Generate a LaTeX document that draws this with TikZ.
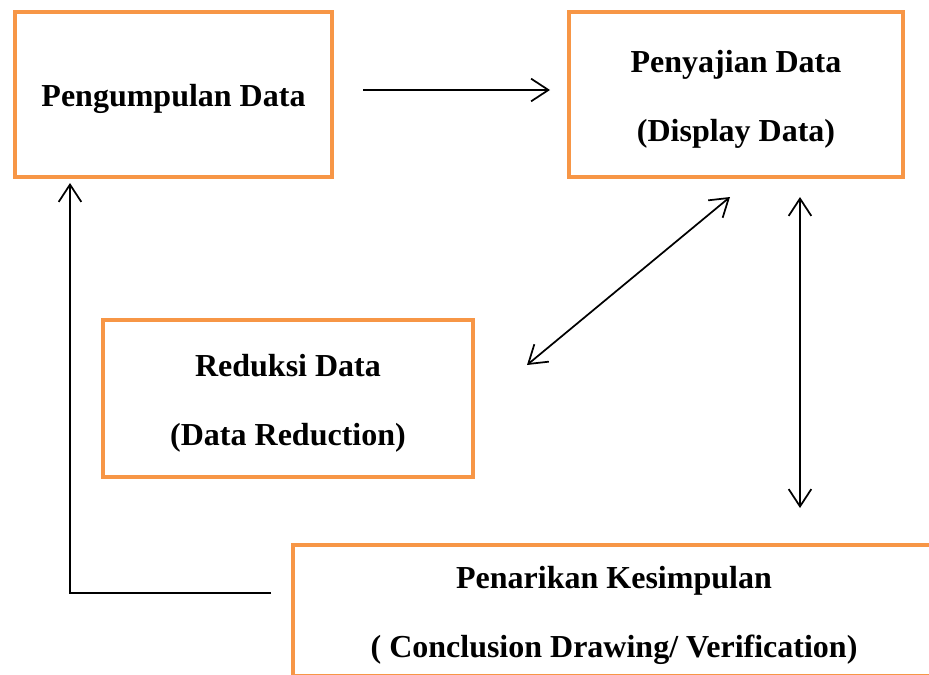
\documentclass[tikz,border=0pt]{standalone}
\usepackage{fontspec}
\setmainfont{Liberation Serif}
\usetikzlibrary{arrows.meta,positioning}
\definecolor{boxorange}{HTML}{F79646}
\newcommand{\stagegap}{\rule{0pt}{24pt}}
\tikzset{
  stagebox/.style={draw=boxorange,line width=3pt,align=center,inner sep=0pt,outer sep=0pt,
    font=\fontsize{24}{52}\selectfont\bfseries},
  arr/.style={line width=1.3pt,-{Straight Barb[length=13pt,width=17pt,line width=1.3pt]}},
  darr/.style={line width=1.3pt,{Straight Barb[length=13pt,width=17pt,line width=1.3pt]}-{Straight Barb[length=13pt,width=17pt,line width=1.3pt]}}
}

\begin{document}
\begin{tikzpicture}[x=0.75pt,y=-0.75pt]
   \clip (0,0) rectangle (929,675);
   \useasboundingbox (0,0) rectangle (929,675);

   \node[stagebox,minimum width=237.75pt,minimum height=123.75pt] (p1) at (173.5,94.5) {\stagegap Pengumpulan Data};
   \node[stagebox,minimum width=250.5pt,minimum height=123.75pt] (p2) at (736,94.5) {\stagegap Penyajian Data\\(Display Data)};
   \node[stagebox,minimum width=277.5pt,minimum height=117.75pt] (p3) at (288,398.5) {\stagegap Reduksi Data\\(Data Reduction)};
   \node[stagebox,minimum width=481.5pt,minimum height=98.25pt] (p4) at (614,610.5) {\stagegap Penarikan Kesimpulan\\( Conclusion Drawing/ Verification)};

   \draw[arr] ([shift={(31,-4.5)}]p1.east) -- ([shift={(-19,-4.5)}]p2.west);
   \draw[darr] ([shift={(54,-33.5)}]p3.east) -- ([shift={(-6,20)}]p2.south);
   \draw[darr] ([shift={(64,20)}]p2.south) -- ([shift={(507,-37)}]p4.north west);
   \draw[arr] ([shift={(-22,-17.5)}]p4.west) -| ([shift={(55,6)}]p1.south west);
\end{tikzpicture}
\end{document}
